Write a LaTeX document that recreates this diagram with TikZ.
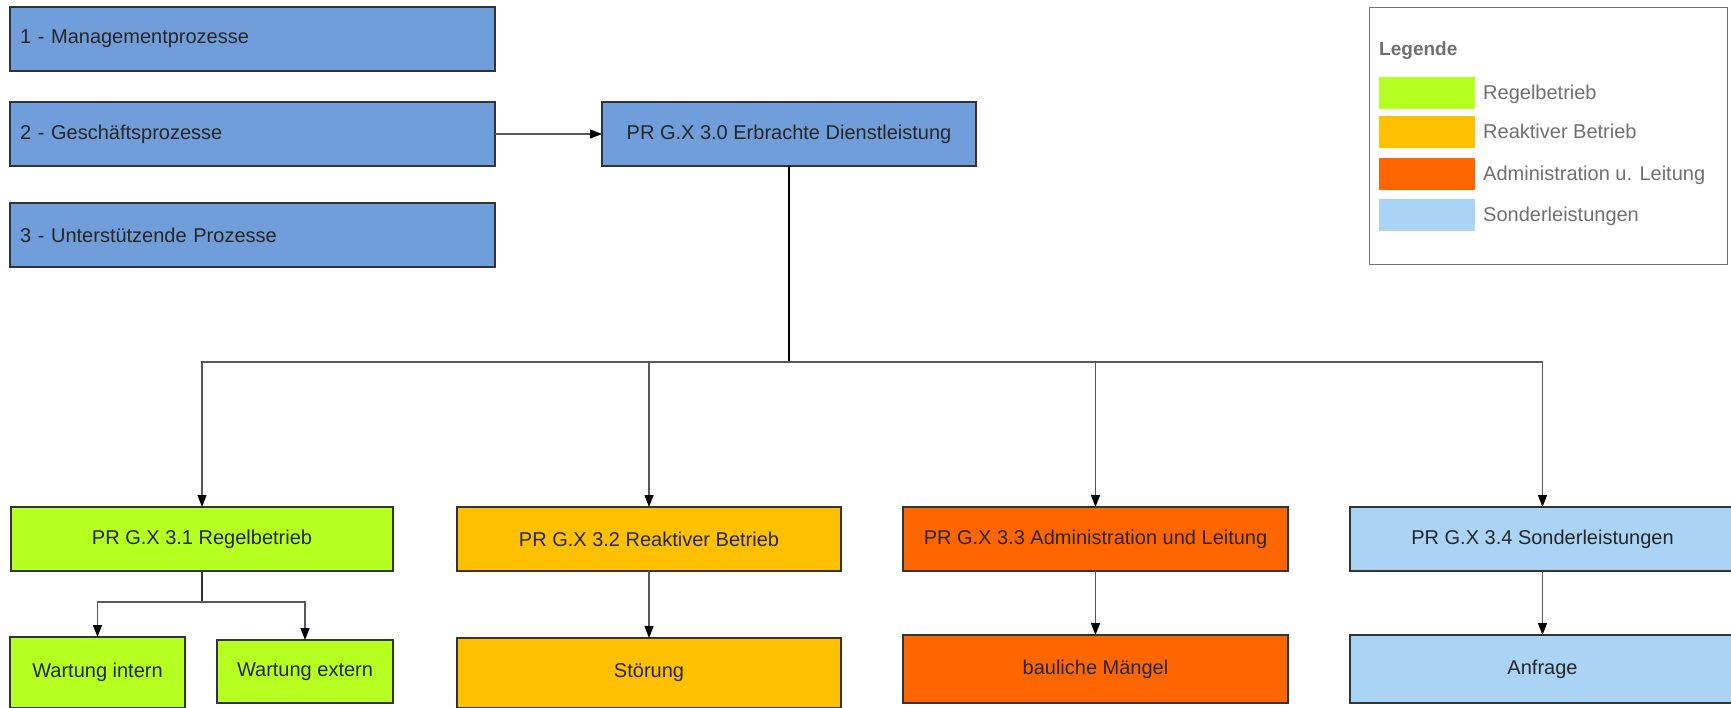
\documentclass[tikz,border=0pt]{standalone}
\usepackage{fontspec}
\setmainfont{Liberation Sans}
\usetikzlibrary{arrows.meta}
\definecolor{procblue}{RGB}{112,158,218}
\definecolor{regel}{RGB}{181,255,33}
\definecolor{reakt}{RGB}{255,192,0}
\definecolor{admin}{RGB}{255,102,0}
\definecolor{sonder}{RGB}{169,212,245}
\definecolor{legtext}{RGB}{112,112,112}
\begin{document}
\begin{tikzpicture}[x=1pt,y=-1pt,
  box/.style={draw=black!80,line width=1.3pt,inner sep=0pt,outer sep=0pt,
    font=\fontsize{20}{24}\selectfont,text=black!85,anchor=north west},
  leftbox/.style={box,fill=procblue,minimum height=64pt,text width=465pt,inner xsep=10pt,align=left},
  conn/.style={draw=black!65,line width=1.3pt,-{Triangle[length=12pt,width=9pt,color=black,fill=black]}},
  swatch/.style={inner sep=0pt,outer sep=0pt,minimum width=96pt,minimum height=32pt,anchor=north west},
  legitem/.style={anchor=base west,inner sep=0pt,font=\fontsize{20}{24}\selectfont,text=legtext}]
\useasboundingbox (0,0) rectangle (1731,707);
\clip (0,0) rectangle (1731,707);
\fill[white] (0,0) rectangle (1731,707);

% left process boxes
\node[leftbox] (m1) at (10,7) {1 - Managementprozesse};
\node[leftbox] (m2) at (10,102) {2 - Geschäftsprozesse};
\node[leftbox] (m3) at (10,203) {3 - Unterstützende Prozesse};

% top node
\node[box,fill=procblue,minimum width=374pt,minimum height=64pt] (p30) at (602,102) {PR G.X 3.0 Erbrachte Dienstleistung};

% second level
\node[box,fill=regel,minimum width=382pt,minimum height=64pt] (p31) at (11,507) {PR G.X 3.1 Regelbetrieb};
\node[box,fill=reakt,minimum width=384pt,minimum height=64pt] (p32) at (457,507) {PR G.X 3.2 Reaktiver Betrieb};
\node[box,fill=admin,minimum width=385pt,minimum height=64pt] (p33) at (903,507) {PR G.X 3.3 Administration und Leitung};
\node[box,fill=sonder,minimum width=385pt,minimum height=64pt] (p34) at (1350,507) {PR G.X 3.4 Sonderleistungen};

% third level
\node[box,fill=regel,minimum width=175pt,minimum height=71pt] (wi) at (10,637) {Wartung intern};
\node[box,fill=regel,minimum width=176pt,minimum height=63pt] (we) at (217,640) {Wartung extern};
\node[box,fill=reakt,minimum width=384pt,minimum height=70pt] (st) at (457,638) {Störung};
\node[box,fill=admin,minimum width=385pt,minimum height=68pt] (bm) at (903,635) {bauliche Mängel};
\node[box,fill=sonder,minimum width=385pt,minimum height=68pt] (an) at (1350,635) {Anfrage};

% connectors
\draw[conn] (m2.east) -- (p30.west);
\path (p30.south) ++(0,196) coordinate (hub);
\draw[line width=2pt,black] (p30.south) -- (hub);
\foreach \n in {p31,p32,p33,p34} \draw[conn] (hub) -| (\n.north);
\path (p31.south) ++(0,31) coordinate (hub2);
\draw[line width=2pt,black!80] (p31.south) -- (hub2);
\draw[conn] (hub2) -| (wi.north);
\draw[conn] (hub2) -| (we.north);
\draw[conn] (p32.south) -- (st.north);
\draw[conn] (p33.south) -- (bm.north);
\draw[conn] (p34.south) -- (an.north);

% legend
\node[draw=black!55,line width=1.2pt,inner sep=0pt,minimum width=358pt,minimum height=257pt,anchor=north west] (leg) at (1369,7) {};
\node[legitem,font=\fontsize{19}{23}\selectfont\bfseries] (legt) at (1379,55) {Legende};
\node[swatch,fill=regel] (s1) at (1379,77) {};
\node[swatch,fill=reakt] (s2) at (1379,116) {};
\node[swatch,fill=admin] (s3) at (1379,158) {};
\node[swatch,fill=sonder] (s4) at (1379,199) {};
\node[legitem] (l1) at (1483,99) {Regelbetrieb};
\node[legitem] (l2) at (1483,138) {Reaktiver Betrieb};
\node[legitem] (l3) at (1483,180) {Administration u. Leitung};
\node[legitem] (l4) at (1483,221) {Sonderleistungen};
\end{tikzpicture}
\end{document}
